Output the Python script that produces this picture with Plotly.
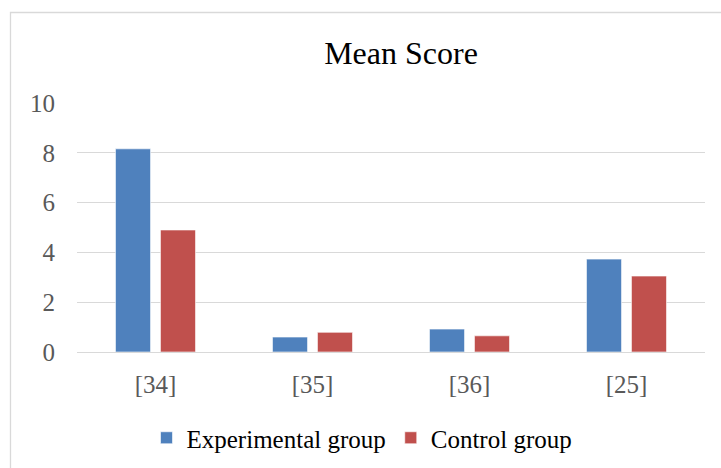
import plotly.graph_objects as go

categories = ["[34]", "[35]", "[36]", "[25]"]
experimental = [8.16, 0.60, 0.92, 3.73]
control = [4.90, 0.79, 0.65, 3.05]
series_names = ["Experimental group", "Control group"]
y_ticks = [0, 2, 4, 6, 8, 10]

W, H = 721, 468
L, R, T, B = 77, 16, 103, 116
pw = W - L - R
ph = H - T - B

def px_x(x):
    return (x - L) / pw

def px_y(y):
    return (H - B - y) / ph

FONT = "'Liberation Serif', 'Times New Roman', serif"

fig = go.Figure()
fig.add_trace(go.Bar(x=categories, y=experimental, name=series_names[0],
                     marker=dict(color="#4F81BD", line=dict(color="#ffffff", width=0.6))))
fig.add_trace(go.Bar(x=categories, y=control, name=series_names[1],
                     marker=dict(color="#C0504D", line=dict(color="#ffffff", width=0.6))))

fig.update_layout(
    width=W, height=H,
    margin=dict(l=L, r=R, t=T, b=B, autoexpand=False),
    paper_bgcolor="white", plot_bgcolor="white",
    barmode="group", bargap=0.427, bargroupgap=0.22,
    font=dict(family=FONT, size=25, color="#595959"),
    title=dict(text="Mean Score", x=(372) / W, xanchor="center", xref="paper",
               y=1 - 53 / H, yanchor="middle", yref="container",
               font=dict(family=FONT, size=32, color="#000000")),
    legend=dict(orientation="h", x=px_x(362), xanchor="center",
                y=px_y(438), yanchor="middle",
                font=dict(family=FONT, size=25, color="#000000"),
                itemwidth=30, bgcolor="rgba(0,0,0,0)"),
    xaxis=dict(showgrid=False, showline=False, ticks="", ticklabelstandoff=15,
               automargin=False,
               tickfont=dict(family=FONT, size=25, color="#595959")),
    yaxis=dict(range=[0, 10], tickvals=y_ticks, showgrid=True, gridcolor="#d9d9d9",
               gridwidth=1.3, zeroline=True, zerolinecolor="#d9d9d9", zerolinewidth=1.3,
               showline=False, ticks="", ticklabelstandoff=21, automargin=False,
               tickfont=dict(family=FONT, size=25, color="#595959")),
    shapes=[dict(type="rect", xref="paper", yref="paper",
                 x0=px_x(10.5), x1=px_x(745), y0=px_y(485), y1=px_y(12.5),
                 line=dict(color="#d9d9d9", width=1.3), fillcolor="rgba(0,0,0,0)",
                 layer="below")],
)

fig.write_html("out.html", config={"displayModeBar": False},
               post_script="document.body.style.margin='0';document.body.style.padding='0';")
